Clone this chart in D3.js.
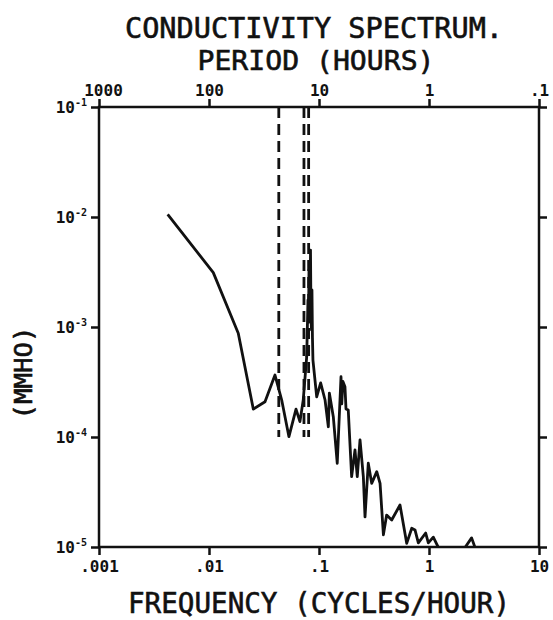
<!DOCTYPE html>
<html><head><meta charset="utf-8">
<script src="https://cdn.jsdelivr.net/npm/d3@7"></script>
<style>body{margin:0;background:#fff}text{font-family:"DejaVu Sans Mono",monospace;fill:#111}</style>
</head><body><svg id="c" width="553" height="620"></svg>
<script>
const freqTicks = [0.001, 0.01, 0.1, 1, 10];
const freqTickLabels = [".001", ".01", ".1", "1", "10"];
const periodTicks = [1000, 100, 10, 1, 0.1];
const periodTickLabels = ["1000", "100", "10", "1", ".1"];
const yTicks = [1e-1, 1e-2, 1e-3, 1e-4, 1e-5];
const yTickExp = ["-1", "-2", "-3", "-4", "-5"];
const tideFreqs = [0.0431, 0.0730, 0.0805];
const tideLineBottom = 1e-4;
const freq = [0.00421,0.01094,0.01845,0.0253,0.0323,0.0398,0.0458,0.0533,0.0618,0.0671,0.0719,0.0773,0.0794,0.0803,0.0811,0.0820,0.0828,0.0837,0.0846,0.0855,0.0863,0.0872,0.0881,0.0953,0.1035,0.1135,0.1216,0.1242,0.1349,0.1465,0.1585,0.1610,0.1650,0.1722,0.1760,0.1845,0.198,0.2124,0.2228,0.236,0.253,0.262,0.2805,0.3013,0.335,0.359,0.385,0.412,0.458,0.545,0.627,0.697,0.746,0.8,0.933,0.986,1.094,1.216,1.5,1.8,2.125,2.44,2.62];
const mmho = [0.01058,0.00312,0.000877,0.000179,0.000209,0.000366,0.000217,0.0001007,0.000179,0.000138,0.000217,0.000537,0.00176,0.00110,0.0033,0.00150,0.00116,0.005,0.00120,0.00094,0.00217,0.00080,0.0005,0.000232,0.00031,0.000217,0.000124,0.000251,0.000153,0.0000577,0.000353,0.000200,0.000320,0.000286,0.000180,0.000176,0.0000436,0.0000762,0.0000436,0.000094,0.0000436,0.0000188,0.0000577,0.0000379,0.0000484,0.0000379,0.0000129,0.0000195,0.0000176,0.0000241,0.0000108,0.0000148,0.0000143,0.0000109,0.0000134,0.0000109,0.0000123,0.0000099,0.0000099,0.0000099,0.0000099,0.0000121,0.0000099];

const svg = d3.select("#c");
const L=99,R=539,T=107,B=547;
const x = d3.scaleLog().domain([0.001,10]).range([L,R]);
const y = d3.scaleLog().domain([1e-1,1e-5]).range([T,B]);
const col="#111";

svg.append("defs").append("clipPath").attr("id","clip").append("rect")
  .attr("x",L).attr("y",T-1).attr("width",R-L).attr("height",B-T+1);

// tidal dashed lines
svg.append("g").selectAll("line").data(tideFreqs).join("line")
  .attr("x1",d=>x(d)).attr("x2",d=>x(d)).attr("y1",T).attr("y2",y(tideLineBottom))
  .attr("stroke",col).attr("stroke-width",2.8).attr("stroke-dasharray","11,6");

// spectrum line
const pts = freq.map((f,i)=>[f,mmho[i]]);
svg.append("path").datum(pts).attr("clip-path","url(#clip)")
  .attr("d",d3.line().x(d=>x(d[0])).y(d=>y(d[1])))
  .attr("fill","none").attr("stroke",col).attr("stroke-width",2.8).attr("stroke-linejoin","round");

// frame
svg.append("rect").attr("x",L).attr("y",T).attr("width",R-L).attr("height",B-T)
  .attr("fill","none").attr("stroke",col).attr("stroke-width",2.5);

const gb = svg.append("g").attr("transform",`translate(0,${B})`)
  .call(d3.axisBottom(x).tickValues(freqTicks).tickFormat((d,i)=>freqTickLabels[i]).tickSize(8).tickPadding(6));
const gt = svg.append("g").attr("transform",`translate(0,${T})`)
  .call(d3.axisTop(d3.scaleLog().domain([1000,0.1]).range([L,R])).tickValues(periodTicks).tickFormat((d,i)=>periodTickLabels[i]).tickSize(8).tickPadding(3));
const gl = svg.append("g").attr("transform",`translate(${L},0)`)
  .call(d3.axisLeft(y).tickValues(yTicks).tickFormat("").tickSize(8));
const gr = svg.append("g").attr("transform",`translate(${R},0)`)
  .call(d3.axisRight(y).tickValues(yTicks).tickFormat("").tickSize(8));
[gb,gt,gl,gr].forEach(g=>{
  g.select(".domain").remove();
  g.selectAll(".tick line").attr("stroke",col).attr("stroke-width",2.5);
  g.selectAll(".tick text").attr("font-size",16).attr("font-weight","bold").attr("fill",col).style("font-family","DejaVu Sans Mono");
});
gt.selectAll(".tick text").attr("dx",(d)=>d===1000?4:0);

yTicks.forEach((v,i)=>{
  const t = svg.append("text").attr("x",L-12).attr("y",y(v)+6).attr("text-anchor","end")
    .attr("font-size",16).attr("font-weight","bold");
  t.append("tspan").text("10");
  t.append("tspan").attr("dy",-7).attr("font-size",10).text(yTickExp[i]);
});

const heavy = s => s.attr("stroke",col).attr("stroke-width",0.6);
heavy(svg.append("text").attr("x",314).attr("y",38).attr("text-anchor","middle").attr("font-size",28)
  .attr("textLength",378).attr("lengthAdjust","spacingAndGlyphs").text("CONDUCTIVITY SPECTRUM."));
heavy(svg.append("text").attr("x",316).attr("y",70).attr("text-anchor","middle").attr("font-size",27)
  .attr("textLength",237).attr("lengthAdjust","spacingAndGlyphs").text("PERIOD (HOURS)"));
heavy(svg.append("text").attr("x",319).attr("y",613).attr("text-anchor","middle").attr("font-size",28)
  .attr("textLength",382).attr("lengthAdjust","spacingAndGlyphs").text("FREQUENCY (CYCLES/HOUR)"));
heavy(svg.append("text").attr("transform","translate(32,373) rotate(-90)").attr("text-anchor","middle").attr("font-size",24)
  .attr("textLength",93).attr("lengthAdjust","spacingAndGlyphs").text("(MMHO)"));
</script></body></html>
